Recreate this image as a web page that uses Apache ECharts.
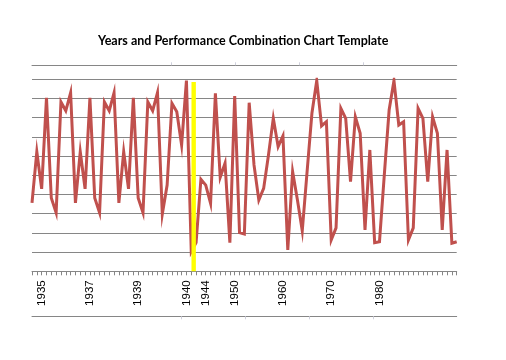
<!DOCTYPE html>
<html>
<head>
<meta charset="utf-8">
<script src="https://cdn.jsdelivr.net/npm/echarts@6/dist/echarts.min.js"></script>
<style>
html,body{margin:0;padding:0;background:#fff;}
#chart{width:506px;height:360px;}
</style>
</head>
<body>
<div id="chart"></div>
<script>
// ---- data ----
const chartTitle = 'Years and Performance Combination Chart Template';
const labelYears = ['1935', '1937', '1939', '1940', '1944', '1950', '1960', '1970', '1980'];
const labelIndex = [2, 12, 22, 32, 36, 42, 52, 62, 72];
const performance = [
  3.56, 6.23, 4.29, 9.03, 3.82, 3.05, 8.82, 8.36, 9.30,
  3.56, 6.23, 4.29, 9.03, 3.82, 3.05, 8.82, 8.36, 9.30,
  3.56, 6.23, 4.29, 9.03, 3.82, 3.05, 8.82, 8.36, 9.30,
  2.98, 4.49, 8.75, 8.31, 6.58, 9.93, 1.02, 1.49, 4.79, 4.49, 3.54, 9.27, 4.90, 5.63,
  1.49, 9.13, 2.01, 1.94, 8.78, 5.54, 3.71, 4.32, 6.06, 7.97, 6.49, 7.05, 1.11, 5.19,
  3.71, 2.11, 5.19, 8.23,
  9.93, 7.57, 7.79, 1.63, 2.26, 8.49, 7.97, 4.67, 8.05, 7.19, 2.15, 6.32, 1.49, 1.54,
  5.02, 8.40,
  9.93, 7.62, 7.79, 1.63, 2.26, 8.49, 7.97, 4.67, 8.05, 7.19, 2.15, 6.32, 1.46, 1.54
];
const highlightSlot = 33;      // slot (between ticks) holding the highlight bar
const highlightValue = 9.86;

// ---- build ----
const categories = performance.map(() => '');
labelIndex.forEach((idx, k) => { categories[idx] = labelYears[k]; });
const barSlots = performance.slice(1).map((_, i) => String(i));
const barData = barSlots.map((_, i) => (i === highlightSlot ? highlightValue : null));

const gridLeft = 32, gridRight = 49.3, gridTop = 79.3, gridBottom = 88.7;
const plotW = 506 - gridLeft - gridRight;

const chart = echarts.init(document.getElementById('chart'), null, {renderer: 'canvas'});
chart.setOption({
  animation: false,
  backgroundColor: '#ffffff',
  title: {
    text: chartTitle,
    left: 93,
    top: 29,
    textStyle: {fontFamily: 'Lato', fontWeight: 'bold', fontSize: 12.5, color: '#000000'}
  },
  grid: {left: gridLeft, right: gridRight, top: gridTop, bottom: gridBottom, containLabel: false},
  xAxis: [
    {
      type: 'category', data: categories, boundaryGap: false, position: 'bottom',
      axisLine: {onZero: false, lineStyle: {color: '#868686', width: 1}},
      axisTick: {interval: 0, length: 4, lineStyle: {color: '#868686'}},
      axisLabel: {interval: 0, rotate: 90, margin: 9, fontFamily: 'Liberation Sans', fontSize: 11.5, color: '#000000'},
      splitLine: {show: false}
    },
    {type: 'category', data: barSlots, boundaryGap: true, show: false},
    {
      type: 'value', position: 'top', offset: 14, min: 0, max: plotW,
      axisLine: {show: true, onZero: false, lineStyle: {color: '#868686'}},
      axisTick: {show: true, customValues: [139.3, 203.3, 267.3, 331.3], length: 3, lineStyle: {color: '#cfd0dc'}},
      axisLabel: {show: false}, splitLine: {show: false}
    },
    {
      type: 'value', position: 'bottom', offset: 45, min: 0, max: plotW,
      axisLine: {show: true, onZero: false, lineStyle: {color: '#868686'}},
      axisTick: {show: true, customValues: [149.3, 213.3, 277.3, 341.3], length: 3, lineStyle: {color: '#cfd0dc'}},
      axisLabel: {show: false}, splitLine: {show: false}
    }
  ],
  yAxis: {
    type: 'value', min: 0, max: 10, interval: 1,
    axisLine: {show: false}, axisTick: {show: false}, axisLabel: {show: false},
    splitLine: {show: true, lineStyle: {color: '#868686', width: 1}}
  },
  series: [
    {
      type: 'line', data: performance, xAxisIndex: 0, yAxisIndex: 0,
      showSymbol: false, symbol: 'none',
      lineStyle: {color: '#C0504D', width: 3, join: 'miter'},
      z: 2
    },
    {
      type: 'bar', data: barData, xAxisIndex: 1, yAxisIndex: 0,
      barWidth: 4.4, itemStyle: {color: '#FFFF00'}, z: 3
    }
  ]
});
</script>
</body>
</html>
